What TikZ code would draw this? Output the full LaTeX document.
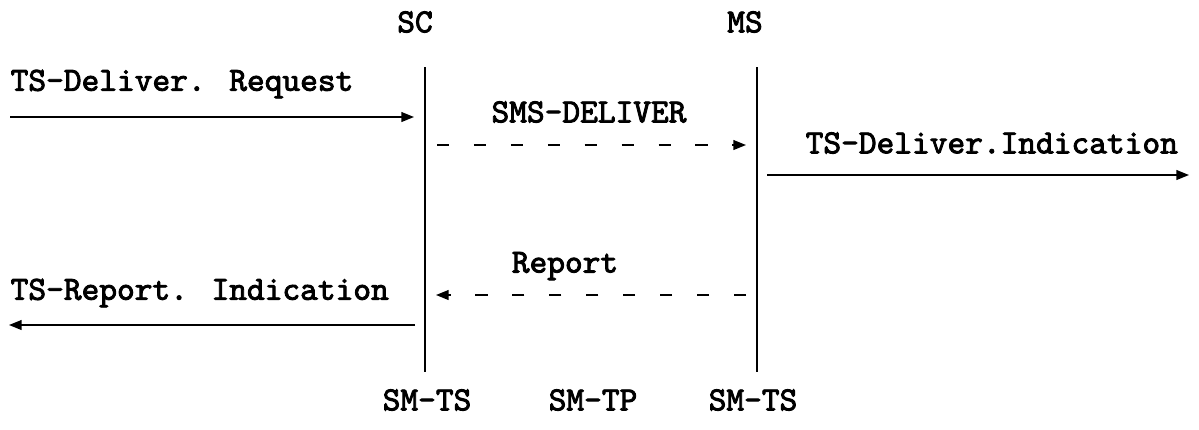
\documentclass[tikz,border=0pt]{standalone}
\usepackage{fontspec}
\newfontfamily\courbold[FakeBold=2.6]{Latin Modern Mono}
\usetikzlibrary{arrows.meta}
\begin{document}
\begin{tikzpicture}[x=0.01cm,y=-0.01cm,
  lbl/.style={font=\courbold\fontsize{9.6}{11}\selectfont, inner sep=0pt},
  life/.style={line width=0.6pt},
  msg/.style={line width=0.45pt, -{Triangle[length=3.6pt,width=2.8pt]}},
  dmsg/.style={msg, dash pattern=on 3.5pt off 7pt}]
\useasboundingbox (0,0) rectangle (1199,429);
% lifelines
\coordinate (sct) at (425,67);
\coordinate (scb) at (425,372);
\coordinate (mst) at (757,67);
\coordinate (msb) at (757,372);
\draw[life] (sct) -- (scb);
\draw[life] (mst) -- (msb);
% headers
\node[lbl] (sc) at (415,22) {SC};
\node[lbl] (ms) at (745,22) {MS};
% footers
\node[lbl] (f1) at (427,400) {SM-TS};
\node[lbl] (f2) at (593,400) {SM-TP};
\node[lbl] (f3) at (753,400) {SM-TS};
% request
\node[lbl, anchor=west] (req) at (10,84) {TS-Deliver. Request};
\coordinate (a1s) at (10,117);
\coordinate (a1e) at (414,117);
\draw[msg] (a1s) -- (a1e);
% SMS-DELIVER
\node[lbl] (smsd) at (589,112) {SMS-DELIVER};
\coordinate (a2s) at (437,145);
\coordinate (a2e) at (746,145);
\draw[dmsg] (a2s) -- (a2e);
% indication
\node[lbl, anchor=west] (ind) at (805,143) {TS-Deliver.Indication};
\coordinate (a3s) at (767,175);
\coordinate (a3e) at (1189,175);
\draw[msg] (a3s) -- (a3e);
% report
\node[lbl] (rep) at (565,266) {Report};
\coordinate (a4s) at (746,295);
\coordinate (a4e) at (436,295);
\draw[dmsg] (a4s) -- (a4e);
% report indication
\node[lbl, anchor=west] (rind) at (10,293) {TS-Report. Indication};
\coordinate (a5s) at (415,325);
\coordinate (a5e) at (9,325);
\draw[msg] (a5s) -- (a5e);
\end{tikzpicture}
\end{document}
